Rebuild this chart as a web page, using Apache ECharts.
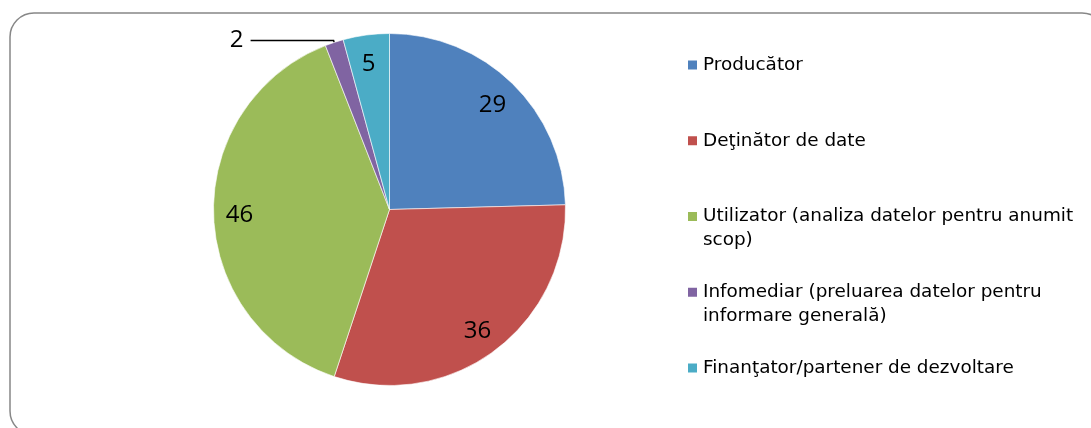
<!DOCTYPE html>
<html>
<head>
<meta charset="utf-8">
<script src="https://cdn.jsdelivr.net/npm/echarts@6/dist/echarts.min.js"></script>
<style>
  html, body { margin: 0; padding: 0; background: #fff; }
  #chart { width: 1091px; height: 428px; }
</style>
</head>
<body>
<div id="chart"></div>
<script>
// date
const categories = [
  'Producător',
  'Deţinător de date',
  'Utilizator (analiza datelor pentru anumit scop)',
  'Infomediar (preluarea datelor pentru informare generală)',
  'Finanţator/partener de dezvoltare'
];
const values = [29, 36, 46, 2, 5];

// stiluri
const colors = ['#4F81BD', '#C0504D', '#9BBB59', '#8064A2', '#4BACC6'];
const pieCenter = [389.5, 209.5];
const pieRadius = 176;
const labelFont = { fontFamily: 'Open Sans', fontSize: 24, color: '#000' };
const legendFontSize = 18.4;
const legendFontFamily = 'DejaVu Sans';
const legendTextWidth = 380;
const lineH = 24;

const total = values.reduce((a, b) => a + b, 0);
// felii mici -> eticheta in afara, cu linie
const isSmall = v => v / total < 0.03;

// masuram textul ca sa stim care intrari din legenda se rup pe doua randuri
const ctx = document.createElement('canvas').getContext('2d');
ctx.font = legendFontSize + 'px "' + legendFontFamily + '"';
const wraps = name => ctx.measureText(name).width > legendTextWidth;

const chart = echarts.init(document.getElementById('chart'));

const option = {
  backgroundColor: '#fff',
  animation: false,
  graphic: [{
    type: 'rect',
    silent: true,
    z: -10,
    shape: { x: 10, y: 13, width: 1096, height: 422, r: 24 },
    style: { fill: 'none', stroke: '#878787', lineWidth: 1.5 }
  }],
  legend: {
    orient: 'vertical',
    left: 686,
    top: 29,
    padding: 0,
    itemWidth: 11,
    itemHeight: 11,
    itemGap: 3.75,
    icon: 'rect',
    selectedMode: false,
    textStyle: {
      fontFamily: legendFontFamily,
      fontSize: legendFontSize,
      color: '#000',
      lineHeight: lineH,
      width: legendTextWidth,
      overflow: 'break'
    },
    // randuri goale ca iconita sa stea in dreptul primului rand si pasul sa fie egal
    formatter: name => wraps(name) ? ' \n' + name : ' \n' + name + '\n ',
    data: categories.map((name, i) => ({ name, itemStyle: { color: colors[i] } }))
  },
  series: [
    {
      type: 'pie',
      center: pieCenter,
      radius: pieRadius,
      startAngle: 90,
      clockwise: true,
      avoidLabelOverlap: false,
      emphasis: { disabled: true },
      itemStyle: { borderColor: '#fff', borderWidth: 0.6 },
      label: { show: false },
      labelLine: { show: false },
      data: categories.map((name, i) => {
        const small = isSmall(values[i]);
        return {
          name,
          value: values[i],
          itemStyle: { color: colors[i] },
          label: small
            ? Object.assign({ show: true, position: 'outside', formatter: '{c}', distanceToLabelLine: 7 }, labelFont)
            : { show: false },
          labelLine: small
            ? { show: true, length: 2, length2: 83, lineStyle: { color: '#000', width: 1.5 } }
            : { show: false }
        };
      })
    },
    {
      // serie transparenta doar pentru etichetele din interior (mai departe de centru)
      type: 'pie',
      center: pieCenter,
      radius: pieRadius * 1.66,
      startAngle: 90,
      clockwise: true,
      silent: true,
      legendHoverLink: false,
      avoidLabelOverlap: false,
      emphasis: { disabled: true },
      itemStyle: { color: 'rgba(0,0,0,0)', borderWidth: 0 },
      label: Object.assign({ show: true, position: 'inside', formatter: '{c}', offset: [-1, 2] }, labelFont),
      labelLine: { show: false },
      data: categories.map((name, i) => ({
        name,
        value: values[i],
        label: { show: !isSmall(values[i]) }
      }))
    }
  ]
};

chart.setOption(option);
</script>
</body>
</html>
